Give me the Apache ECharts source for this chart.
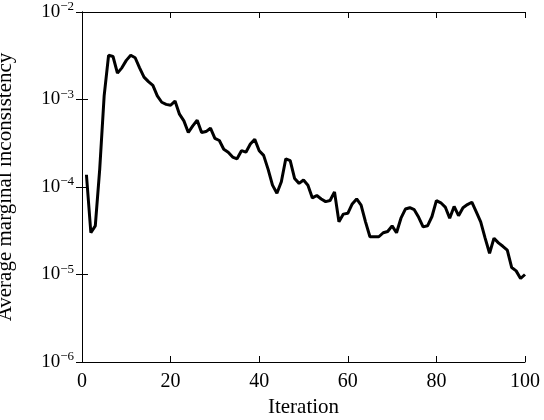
<!DOCTYPE html>
<html>
<head>
<meta charset="UTF-8">
<script src="https://cdn.jsdelivr.net/npm/echarts@6/dist/echarts.min.js"></script>
<style>
    body { margin: 0; background: #fff; }
    #main { width: 544px; height: 420px; }
</style>
</head>
<body>
<div id="main"></div>
<script>
    // iterations 1..100 and the average marginal inconsistency
    var iterations = [];
    for (var i = 1; i <= 100; i++) iterations.push(i);
    var values = [
        1.38e-4, 3.0e-5, 3.6e-5, 1.6e-4, 1.1e-3, 3.2e-3, 3.1e-3, 2.0e-3, 2.3e-3, 2.8e-3,
        3.2e-3, 3.0e-3, 2.3e-3, 1.8e-3, 1.6e-3, 1.45e-3, 1.1e-3, 9.3e-4, 8.8e-4, 8.6e-4,
        9.6e-4, 6.8e-4, 5.7e-4, 4.2e-4, 5.0e-4, 5.8e-4, 4.2e-4, 4.3e-4, 4.7e-4, 3.6e-4,
        3.4e-4, 2.7e-4, 2.5e-4, 2.2e-4, 2.1e-4, 2.6e-4, 2.5e-4, 3.1e-4, 3.5e-4, 2.6e-4,
        2.3e-4, 1.6e-4, 1.05e-4, 8.5e-5, 1.15e-4, 2.1e-4, 2.0e-4, 1.25e-4, 1.1e-4, 1.2e-4,
        1.05e-4, 7.5e-5, 8.0e-5, 7.3e-5, 6.8e-5, 7.0e-5, 8.8e-5, 4.0e-5, 4.9e-5, 5.0e-5,
        6.4e-5, 7.3e-5, 6.2e-5, 4.0e-5, 2.7e-5, 2.7e-5, 2.7e-5, 3.0e-5, 3.1e-5, 3.6e-5,
        3.0e-5, 4.4e-5, 5.6e-5, 5.8e-5, 5.5e-5, 4.5e-5, 3.5e-5, 3.6e-5, 4.6e-5, 7.0e-5,
        6.6e-5, 5.9e-5, 4.4e-5, 6.0e-5, 4.7e-5, 5.8e-5, 6.3e-5, 6.7e-5, 5.2e-5, 4.0e-5,
        2.6e-5, 1.75e-5, 2.6e-5, 2.3e-5, 2.1e-5, 1.9e-5, 1.2e-5, 1.1e-5, 9.0e-6, 1.0e-5
    ];
    var xTicks = [0, 20, 40, 60, 80, 100];
    var yExponents = [-6, -5, -4, -3, -2];

    var font = 'Liberation Serif';
    var chart = echarts.init(document.getElementById('main'));

    function powLabel(v) {
        var e = Math.round(Math.log10(v));
        if (yExponents.indexOf(e) < 0) return '';
        return '{b|10}{s|' + (e < 0 ? '\u2212' + (-e) : e) + '}';
    }

    var richY = {
        b: { fontFamily: font, fontSize: 19, color: '#000' },
        s: { fontFamily: font, fontSize: 13, color: '#000', verticalAlign: 'top', padding: [0, 0, 10, 0] }
    };

    chart.setOption({
        animation: false,
        grid: { left: 82, right: 19, top: 12, bottom: 58, containLabel: false, outerBoundsMode: 'none' },
        xAxis: [{
            type: 'value', min: 0, max: 100, interval: 20,
            name: 'Iteration', nameLocation: 'middle', nameGap: 35,
            nameTextStyle: { fontFamily: font, fontSize: 21, color: '#000' },
            axisLine: { lineStyle: { color: '#000', width: 1 } },
            axisTick: { inside: true, length: 6, lineStyle: { color: '#000' } },
            axisLabel: { fontFamily: font, fontSize: 20, color: '#000', margin: 10 },
            splitLine: { show: false }
        }, {
            type: 'value', min: 0, max: 100, interval: 20, position: 'top',
            axisLine: { lineStyle: { color: '#000', width: 1 } },
            axisTick: { inside: true, length: 6, lineStyle: { color: '#000' } },
            axisLabel: { show: false }, splitLine: { show: false }
        }],
        yAxis: [{
            type: 'log', logBase: 10, min: 1e-6, max: 1e-2,
            name: 'Average marginal inconsistency', nameLocation: 'middle', nameGap: 66,
            nameTextStyle: { fontFamily: font, fontSize: 21, color: '#000' },
            axisLine: { lineStyle: { color: '#000', width: 1 } },
            axisTick: { inside: true, length: 6, lineStyle: { color: '#000' } },
            axisLabel: { formatter: powLabel, rich: richY, margin: 8 },
            splitLine: { show: false }
        }, {
            type: 'log', logBase: 10, min: 1e-6, max: 1e-2, position: 'right',
            axisLine: { lineStyle: { color: '#000', width: 1 } },
            axisTick: { inside: true, length: 6, lineStyle: { color: '#000' } },
            axisLabel: { show: false }, splitLine: { show: false }
        }],
        series: [{
            type: 'line',
            data: iterations.map(function (it, k) { return [it, values[k]]; }),
            showSymbol: false,
            lineStyle: { color: '#000', width: 3 },
            itemStyle: { color: '#000' }
        }]
    });
</script>
</body>
</html>
